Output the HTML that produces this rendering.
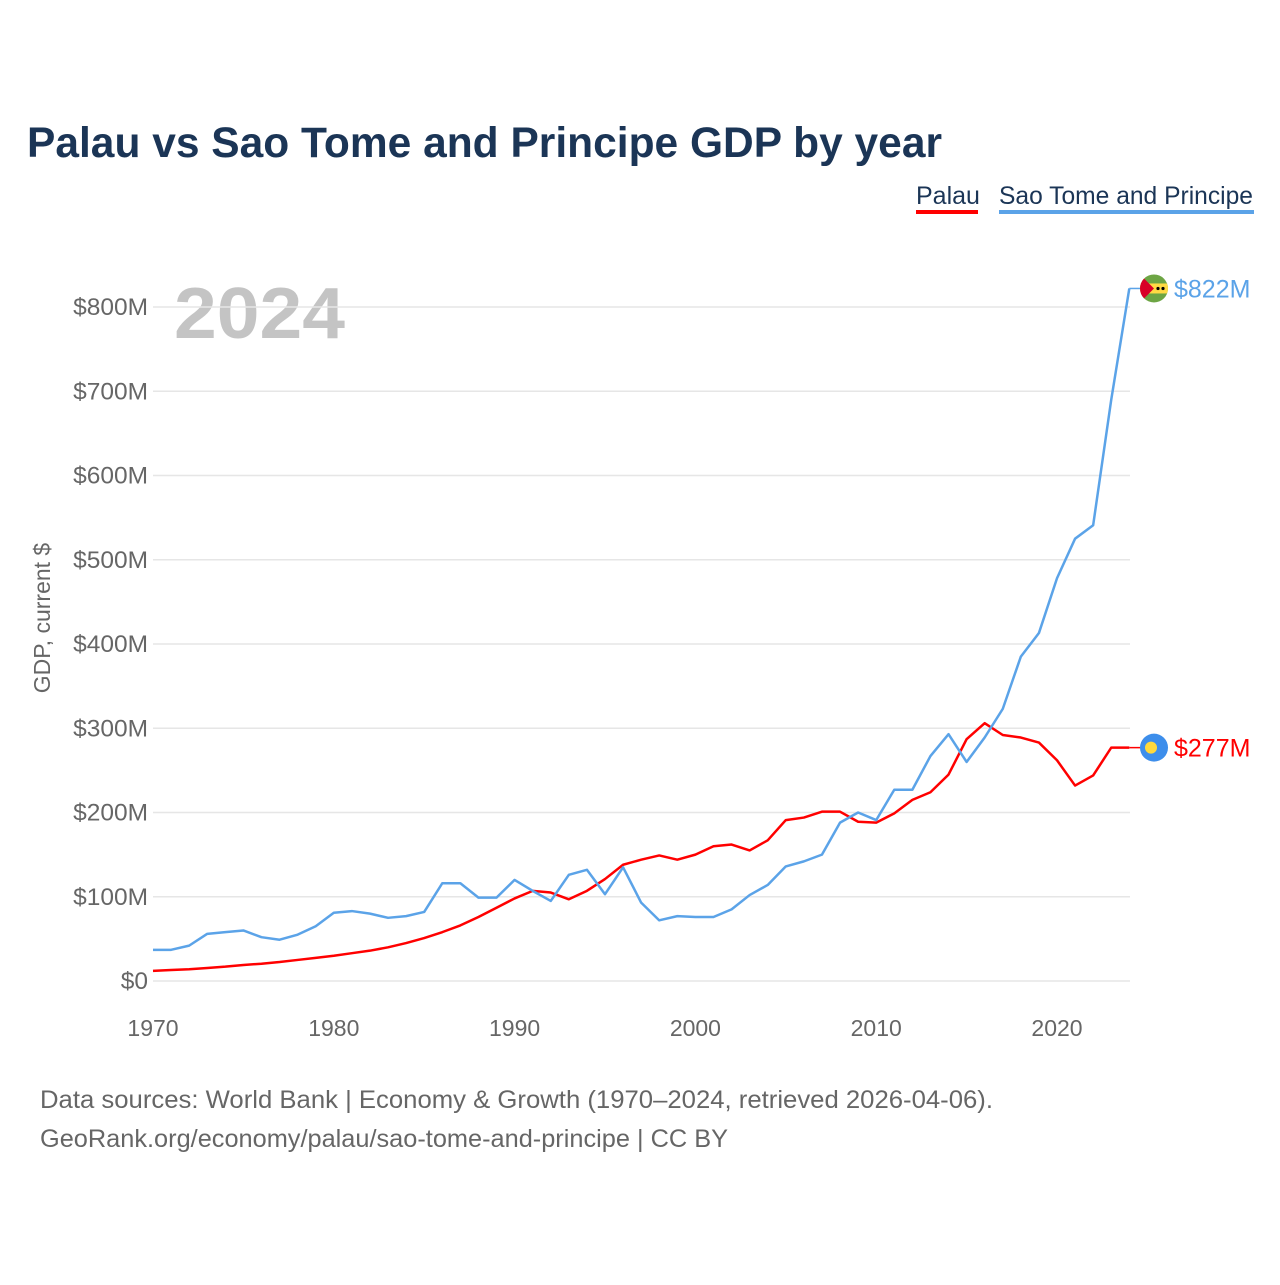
<!DOCTYPE html>
<html><head><meta charset="utf-8"><style>
body{margin:0;background:#fff;font-family:"Liberation Sans",sans-serif}
</style></head><body>
<svg width="1280" height="1280" viewBox="0 0 1280 1280" xmlns="http://www.w3.org/2000/svg">
<text x="27" y="157" font-size="43" font-weight="bold" fill="#1b3556" textLength="915" lengthAdjust="spacingAndGlyphs">Palau vs Sao Tome and Principe GDP by year</text>
<g><text x="916" y="204" font-size="25" fill="#1b3556">Palau</text><rect x="916" y="210" width="62" height="4" fill="#ff0000"/></g>
<g><text x="999" y="204" font-size="25" fill="#1b3556" textLength="254" lengthAdjust="spacingAndGlyphs">Sao Tome and Principe</text><rect x="999" y="210" width="255" height="4" fill="#5ba3e8"/></g>
<text x="174" y="338" font-size="72" font-weight="bold" fill="#c4c4c4" textLength="171" lengthAdjust="spacingAndGlyphs">2024</text>
<text transform="translate(50,618) rotate(-90)" text-anchor="middle" font-size="23" fill="#666">GDP, current $</text>
<g id="grid"></g><g id="lines"></g>
<text x="40" y="1108" font-size="25" fill="#666" textLength="953" lengthAdjust="spacingAndGlyphs">Data sources: World Bank | Economy &amp; Growth (1970–2024, retrieved 2026-04-06).</text>
<text x="40" y="1147" font-size="25" fill="#666" textLength="688" lengthAdjust="spacingAndGlyphs">GeoRank.org/economy/palau/sao-tome-and-principe | CC BY</text>
</svg>
<script>
const years=[];for(let y=1970;y<=2024;y++)years.push(y);
const stp=[37,37,42,56,58,60,52,49,55,65,81,83,80,75,77,82,116,116,99,99,120,107,95,126,132,103,135,93,72,77,76,76,85,102,114,136,142,150,188,200,191,227,227,267,293,260,289,323,385,413,478,525,541,690,822];
const palau=[12,13,14,15.5,17,19,20.5,22.5,25,27.5,30,33,36,40,45,51,58,66,76,87,98,107,105,97,107,121,138,144,149,144,150,160,162,155,167,191,194,201,201,189,188,199,215,224,245,287,306,292,289,283,262,232,244,277,277];
const yTicks=[0,100,200,300,400,500,600,700,800];
const xTicks=[1970,1980,1990,2000,2010,2020];
const NS="http://www.w3.org/2000/svg";
const X=y=>153+(y-1970)*18.08, Y=v=>981-v*0.8425;
function mk(t,a,p){const e=document.createElementNS(NS,t);for(const k in a)e.setAttribute(k,a[k]);p.appendChild(e);return e;}
const g=document.getElementById('grid'),L=document.getElementById('lines');
yTicks.forEach(v=>{const l=mk('line',{x1:153,x2:1130,y1:Y(v),y2:Y(v),stroke:'#e6e6e6','stroke-width':1.5},g);


const t=mk('text',{x:148,y:Y(v)+8,'text-anchor':'end','font-size':24.5,fill:'#666'},g);t.textContent='$'+v+(v?'M':'');

});
xTicks.forEach(v=>{const t=mk('text',{x:X(v),y:1036,'text-anchor':'middle','font-size':23,fill:'#666'},g);t.textContent=v;

});
function series(d,c,name){
const p=mk('polyline',{points:d.map((v,i)=>X(years[i])+','+Y(v)).join(' '),fill:'none',stroke:c,'stroke-width':2.5,'stroke-linejoin':'round'},L);


const last=d[d.length-1],ly=Y(last);
mk('line',{x1:X(2024),x2:1142,y1:ly,y2:ly,stroke:c,'stroke-width':1.5},L);
return ly;}
const ly1=series(palau,'#ff0000','palau');
const ly2=series(stp,'#5ba3e8','stp');
const f1=mk('g',{},L);


mk('circle',{cx:1154,cy:ly1,r:14,fill:'#3d8eeb'},f1);mk('circle',{cx:1151,cy:ly1,r:6,fill:'#ffd93b'},f1);
const f2=mk('g',{},L);


mk('clipPath',{id:'cp'},f2);mk('circle',{cx:1154,cy:ly2,r:14},document.getElementById('cp'));
const fg=mk('g',{'clip-path':'url(#cp)'},f2);
mk('rect',{x:1140,y:ly2-14,width:28,height:28,fill:'#6da544'},fg);
mk('rect',{x:1140,y:ly2-5,width:28,height:10,fill:'#ffda44'},fg);
mk('polygon',{points:`1140,${ly2-14} 1154,${ly2} 1140,${ly2+14}`,fill:'#d80027'},fg);
mk('circle',{cx:1158,cy:ly2,r:1.6,fill:'#000'},fg);mk('circle',{cx:1163,cy:ly2,r:1.6,fill:'#000'},fg);
[[ly1,'#ff0000',palau],[ly2,'#5ba3e8',stp]].forEach(([y,c,d])=>{const t=mk('text',{x:1174,y:y+9,'font-size':25,fill:c},L);t.textContent='$'+d[d.length-1]+'M';

});
</script>
</body></html>
